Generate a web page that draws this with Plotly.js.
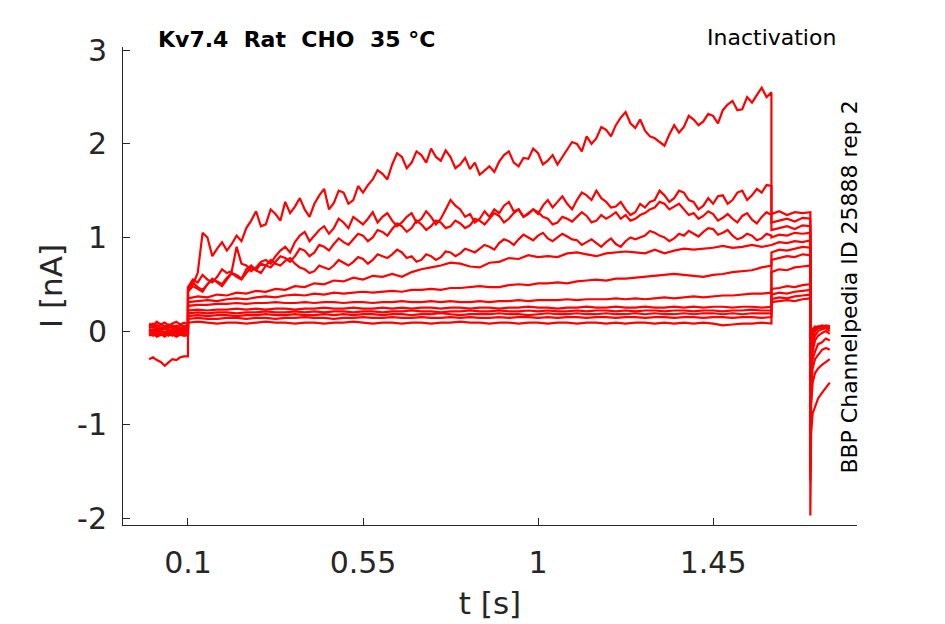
<!DOCTYPE html>
<html>
<head>
<meta charset="utf-8">
<script src="https://cdn.plot.ly/plotly-3.0.1.min.js"></script>
<style>
  body { margin: 0; background: #fff; }
  #myDiv { width: 945px; height: 624px; }
</style>
</head>
<body>
<div id="myDiv"></div>
<script>
// time grids of the protocol segments [s]
var tHold = [0,0.01,0.02,0.03,0.04,0.05,0.06,0.07,0.08,0.09,0.1];
var tStep = [0.1,0.125,0.15,0.175,0.2,0.225,0.25,0.275,0.3,0.325,
             0.35,0.375,0.4,0.425,0.45,0.475,0.5,0.525,0.55,0.575,
             0.6,0.625,0.65,0.675,0.7,0.725,0.75,0.775,0.8,0.825,
             0.85,0.875,0.9,0.925,0.95,0.975,1.0,1.025,1.05,1.075,
             1.1,1.125,1.15,1.175,1.2,1.225,1.25,1.275,1.3,1.325,
             1.35,1.375,1.4,1.425,1.45,1.475,1.5,1.525,1.55,1.575,
             1.6];
var tStepFine = [0.1,0.1125,0.125,0.1375,0.15,0.1625,0.175,0.1875,0.2,0.2125,
             0.225,0.2375,0.25,0.2625,0.275,0.2875,0.3,0.3125,0.325,0.3375,
             0.35,0.3625,0.375,0.3875,0.4,0.4125,0.425,0.4375,0.45,0.4625,
             0.475,0.4875,0.5,0.5125,0.525,0.5375,0.55,0.5625,0.575,0.5875,
             0.6,0.6125,0.625,0.6375,0.65,0.6625,0.675,0.6875,0.7,0.7125,
             0.725,0.7375,0.75,0.7625,0.775,0.7875,0.8,0.8125,0.825,0.8375,
             0.85,0.8625,0.875,0.8875,0.9,0.9125,0.925,0.9375,0.95,0.9625,
             0.975,0.9875,1.0,1.0125,1.025,1.0375,1.05,1.0625,1.075,1.0875,
             1.1,1.1125,1.125,1.1375,1.15,1.1625,1.175,1.1875,1.2,1.2125,
             1.225,1.2375,1.25,1.2625,1.275,1.2875,1.3,1.3125,1.325,1.3375,
             1.35,1.3625,1.375,1.3875,1.4,1.4125,1.425,1.4375,1.45,1.4625,
             1.475,1.4875,1.5,1.5125,1.525,1.5375,1.55,1.5625,1.575,1.5875,
             1.6];
var tTest = [1.6, 1.62, 1.64, 1.66, 1.68, 1.7];
var tTail = [1.7, 1.702, 1.706, 1.712, 1.72, 1.73, 1.74, 1.75];

// currents [nA], one letter per sweep
var holdA = [-0.3,-0.28,-0.31,-0.33,-0.37,-0.33,-0.3,-0.31,-0.28,-0.27,-0.27];
var holdB = [0.08,0.06,0.1,0.07,0.09,0.06,0.08,0.1,0.07,0.09,0.07];
var holdC = [0.05,0.08,0.04,0.07,0.05,0.03,0.06,0.04,0.07,0.05,0.06];
var holdD = [0.03,0.05,0.01,0.04,0.02,0.05,0.03,0.01,0.04,0.02,0.05];
var holdE = [0.02,0.0,0.04,0.01,0.03,0.0,0.02,0.04,0.01,0.03,0.03];
var holdF = [0.0,0.02,-0.01,0.01,-0.02,0.01,0.0,0.02,-0.01,0.01,0.02];
var holdG = [-0.02,0.0,-0.03,-0.01,-0.04,-0.01,-0.02,0.0,-0.03,-0.01,0.0];
var holdH = [-0.03,-0.05,-0.02,-0.04,-0.01,-0.04,-0.03,-0.05,-0.02,-0.04,-0.02];
var holdI = [-0.04,-0.02,-0.05,-0.03,-0.06,-0.03,-0.05,-0.02,-0.04,-0.05,-0.04];
var holdJ = [0.01,-0.01,0.02,0.0,0.03,0.0,0.01,-0.01,0.02,0.0,-0.01];
var holdK = [0.06,0.04,0.07,0.03,0.05,0.07,0.04,0.06,0.03,0.05,0.04];
var holdL = [-0.05,-0.03,-0.06,-0.04,-0.02,-0.05,-0.03,-0.06,-0.04,-0.03,-0.05];

// sweeps A-D on the fine grid
var stepA = [0.45,0.5,0.62,1.05,1.0,0.8,0.88,0.95,0.86,0.93,
             1.02,0.96,1.1,1.18,1.28,1.12,1.14,1.3,1.25,1.18,
             1.38,1.26,1.33,1.42,1.3,1.22,1.36,1.45,1.52,1.3,
             1.37,1.5,1.48,1.36,1.4,1.55,1.48,1.56,1.62,1.72,
             1.68,1.62,1.78,1.9,1.86,1.74,1.8,1.92,1.88,1.8,
             1.95,1.86,1.82,1.93,1.86,1.74,1.78,1.85,1.73,1.8,
             1.67,1.72,1.76,1.7,1.81,1.88,1.92,1.8,1.76,1.85,
             1.84,1.95,1.9,1.78,1.82,1.88,1.78,1.86,1.94,2.02,
             2.0,1.92,2.08,2.0,2.06,2.18,2.15,2.08,2.2,2.28,
             2.34,2.22,2.17,2.26,2.14,2.08,2.06,2.02,1.98,2.1,
             2.2,2.12,2.18,2.3,2.26,2.2,2.24,2.32,2.3,2.22,
             2.36,2.42,2.46,2.36,2.37,2.5,2.44,2.52,2.6,2.5,
             2.55];
var stepB = [0.47,0.55,0.52,0.6,0.55,0.52,0.58,0.66,0.62,0.64,
             0.9,0.72,0.7,0.64,0.68,0.74,0.76,0.72,0.8,0.86,
             0.9,0.84,0.95,1.02,1.06,0.96,1.02,1.08,1.12,1.04,
             1.1,1.2,1.16,1.1,1.22,1.18,1.14,1.2,1.27,1.16,
             1.22,1.26,1.18,1.12,1.16,1.22,1.26,1.16,1.2,1.28,
             1.22,1.14,1.2,1.3,1.4,1.34,1.3,1.22,1.25,1.16,
             1.2,1.28,1.22,1.3,1.26,1.34,1.38,1.28,1.3,1.22,
             1.26,1.3,1.25,1.34,1.4,1.32,1.38,1.44,1.36,1.3,
             1.4,1.48,1.45,1.4,1.5,1.42,1.38,1.32,1.33,1.38,
             1.3,1.24,1.27,1.36,1.32,1.38,1.4,1.5,1.45,1.38,
             1.42,1.5,1.48,1.4,1.38,1.3,1.34,1.42,1.36,1.44,
             1.45,1.36,1.4,1.48,1.5,1.4,1.45,1.52,1.48,1.56,
             1.55];
var stepC = [0.45,0.52,0.47,0.44,0.5,0.56,0.52,0.48,0.55,0.62,
             0.6,0.56,0.66,0.7,0.65,0.72,0.7,0.68,0.74,0.8,
             0.78,0.74,0.8,0.88,0.86,0.8,0.84,0.92,0.9,0.86,
             0.93,0.99,0.95,0.92,0.98,1.04,1.02,0.96,1.0,1.08,
             1.06,1.02,1.09,1.15,1.12,1.06,1.1,1.18,1.14,1.08,
             1.12,1.18,1.16,1.1,1.12,1.18,1.15,1.1,1.13,1.2,
             1.18,1.14,1.2,1.26,1.23,1.16,1.2,1.26,1.3,1.22,
             1.25,1.3,1.27,1.22,1.2,1.14,1.16,1.22,1.2,1.17,
             1.22,1.27,1.23,1.16,1.18,1.24,1.2,1.23,1.27,1.2,
             1.24,1.18,1.2,1.24,1.26,1.3,1.32,1.38,1.36,1.3,
             1.33,1.36,1.3,1.24,1.26,1.2,1.23,1.28,1.25,1.18,
             1.21,1.25,1.2,1.16,1.23,1.26,1.19,1.15,1.22,1.27,
             1.24];
var stepD = [0.42,0.48,0.45,0.42,0.5,0.55,0.53,0.5,0.57,0.62,
             0.58,0.55,0.62,0.68,0.65,0.62,0.7,0.76,0.72,0.7,
             0.75,0.78,0.72,0.68,0.66,0.62,0.64,0.7,0.68,0.66,
             0.7,0.76,0.73,0.7,0.74,0.79,0.77,0.72,0.76,0.82,
             0.8,0.78,0.82,0.87,0.84,0.78,0.8,0.74,0.76,0.82,
             0.8,0.76,0.79,0.85,0.84,0.8,0.83,0.88,0.86,0.84,
             0.88,0.92,0.9,0.87,0.94,0.98,0.96,0.92,0.98,1.03,
             1.0,0.97,1.02,1.05,0.99,0.96,1.0,1.04,1.01,0.98,
             0.97,0.92,0.95,0.98,0.94,0.9,0.95,0.99,0.93,0.9,
             0.96,1.0,0.98,1.0,1.02,1.07,1.05,1.02,1.0,0.96,
             0.99,1.04,1.02,1.07,1.04,1.01,1.06,1.1,1.09,1.03,
             1.05,1.08,1.02,0.98,1.0,1.04,1.02,0.97,0.99,1.04,
             1.02];
// sweeps E-L on the coarse grid
var stepE = [0.35,0.37,0.36,0.39,0.38,0.41,0.4,0.43,0.42,0.45,
             0.44,0.48,0.47,0.51,0.5,0.54,0.53,0.57,0.55,0.59,
             0.58,0.61,0.58,0.63,0.66,0.68,0.7,0.73,0.72,0.69,
             0.68,0.73,0.74,0.78,0.77,0.81,0.79,0.8,0.79,0.83,
             0.84,0.82,0.8,0.83,0.84,0.85,0.84,0.83,0.87,0.83,
             0.86,0.88,0.87,0.88,0.89,0.91,0.89,0.9,0.92,0.9,
             0.92];
var stepF = [0.31,0.32,0.33,0.32,0.34,0.35,0.34,0.36,0.37,0.36,
             0.38,0.39,0.38,0.4,0.39,0.41,0.4,0.41,0.42,0.41,
             0.42,0.43,0.42,0.44,0.44,0.45,0.44,0.46,0.46,0.47,
             0.48,0.47,0.47,0.49,0.5,0.49,0.51,0.51,0.52,0.51,
             0.53,0.54,0.55,0.54,0.56,0.56,0.57,0.58,0.59,0.6,
             0.61,0.6,0.59,0.58,0.6,0.61,0.63,0.64,0.65,0.68,
             0.7];
var stepG = [0.27,0.28,0.28,0.29,0.29,0.3,0.29,0.3,0.3,0.31,
             0.3,0.3,0.31,0.3,0.31,0.31,0.3,0.31,0.31,0.3,
             0.31,0.31,0.32,0.31,0.31,0.32,0.31,0.32,0.31,0.31,
             0.32,0.31,0.32,0.32,0.33,0.32,0.33,0.33,0.33,0.34,
             0.33,0.34,0.34,0.34,0.35,0.34,0.35,0.34,0.35,0.36,
             0.35,0.36,0.37,0.36,0.37,0.38,0.38,0.39,0.4,0.4,
             0.41];
var stepH = [0.22,0.23,0.22,0.23,0.23,0.24,0.23,0.24,0.23,0.24,
             0.24,0.23,0.24,0.24,0.25,0.24,0.24,0.25,0.24,0.24,
             0.25,0.24,0.25,0.24,0.25,0.25,0.24,0.25,0.25,0.24,
             0.25,0.25,0.24,0.25,0.25,0.26,0.25,0.25,0.24,0.25,
             0.25,0.26,0.25,0.25,0.26,0.25,0.25,0.26,0.25,0.25,
             0.26,0.25,0.26,0.25,0.26,0.26,0.25,0.26,0.26,0.25,
             0.26];
var stepI = [0.19,0.2,0.19,0.2,0.2,0.19,0.2,0.2,0.21,0.2,
             0.2,0.21,0.2,0.21,0.2,0.21,0.21,0.2,0.21,0.21,
             0.2,0.21,0.21,0.22,0.21,0.21,0.2,0.21,0.21,0.22,
             0.21,0.21,0.22,0.21,0.21,0.22,0.21,0.22,0.21,0.21,
             0.22,0.21,0.22,0.22,0.21,0.22,0.21,0.22,0.22,0.21,
             0.22,0.22,0.21,0.22,0.22,0.21,0.22,0.22,0.23,0.22,
             0.22];
var stepJ = [0.16,0.17,0.16,0.17,0.17,0.16,0.17,0.17,0.18,0.17,
             0.17,0.18,0.17,0.17,0.18,0.17,0.18,0.17,0.18,0.18,
             0.17,0.18,0.18,0.17,0.18,0.18,0.19,0.18,0.17,0.18,
             0.18,0.18,0.19,0.18,0.18,0.17,0.18,0.19,0.18,0.18,
             0.19,0.18,0.18,0.19,0.18,0.18,0.19,0.18,0.19,0.18,
             0.18,0.19,0.18,0.19,0.19,0.18,0.19,0.18,0.19,0.19,
             0.19];
var stepK = [0.13,0.14,0.13,0.13,0.14,0.14,0.13,0.14,0.14,0.13,
             0.14,0.14,0.15,0.14,0.14,0.13,0.14,0.14,0.15,0.14,
             0.14,0.15,0.14,0.14,0.15,0.14,0.14,0.15,0.14,0.15,
             0.14,0.14,0.15,0.14,0.15,0.15,0.14,0.15,0.14,0.15,
             0.15,0.14,0.15,0.15,0.14,0.15,0.15,0.14,0.15,0.15,
             0.14,0.15,0.15,0.14,0.15,0.15,0.14,0.15,0.15,0.14,
             0.15];
var stepL = [0.09,0.1,0.09,0.08,0.09,0.09,0.08,0.09,0.1,0.09,
             0.09,0.08,0.09,0.09,0.08,0.09,0.09,0.1,0.09,0.08,
             0.09,0.09,0.08,0.09,0.09,0.08,0.09,0.09,0.1,0.09,
             0.09,0.08,0.09,0.09,0.08,0.09,0.09,0.08,0.09,0.09,
             0.08,0.09,0.09,0.08,0.09,0.08,0.09,0.09,0.08,0.09,
             0.08,0.09,0.08,0.09,0.08,0.06,0.07,0.08,0.08,0.09,
             0.08];

var testA = [1.25,1.28,1.24,1.27,1.26,1.27];
var testB = [1.16,1.18,1.2,1.17,1.21,1.2];
var testC = [1.08,1.1,1.12,1.09,1.13,1.12];
var testD = [1.0,1.03,1.02,1.05,1.04,1.05];
var testE = [0.92,0.95,0.94,0.96,0.95,0.97];
var testF = [0.84,0.87,0.86,0.88,0.9,0.89];
var testG = [0.76,0.78,0.8,0.79,0.82,0.81];
var testH = [0.63,0.66,0.65,0.68,0.69,0.7];
var testI = [0.45,0.46,0.48,0.47,0.49,0.5];
var testJ = [0.39,0.41,0.4,0.42,0.43,0.44];
var testK = [0.34,0.36,0.35,0.37,0.38,0.39];
var testL = [0.31,0.32,0.33,0.32,0.34,0.35];

var tailA = [-1.97,-1.1,-0.88,-0.8,-0.72,-0.66,-0.6,-0.55];
var tailB = [-1.6,-0.8,-0.55,-0.45,-0.4,-0.36,-0.33,-0.3];
var tailC = [-1.5,-0.6,-0.4,-0.3,-0.26,-0.2,-0.18,-0.2];
var tailD = [-1.4,-0.5,-0.3,-0.22,-0.14,-0.12,-0.08,-0.1];
var tailE = [-1.3,-0.4,-0.22,-0.1,-0.05,-0.02,0.0,-0.03];
var tailF = [-1.2,-0.35,-0.15,-0.05,0.0,0.02,0.03,0.0];
var tailG = [-1.1,-0.3,-0.1,0.0,0.03,0.04,0.05,0.02];
var tailH = [-1.0,-0.25,-0.05,0.02,0.04,0.05,0.04,0.05];
var tailI = [-0.95,-0.2,-0.02,0.03,0.05,0.03,0.05,0.04];
var tailJ = [-0.9,-0.18,0.0,0.04,0.03,0.05,0.04,0.06];
var tailK = [-0.85,-0.15,0.01,0.03,0.05,0.04,0.06,0.05];
var tailL = [-0.8,-0.12,0.02,0.05,0.04,0.06,0.05,0.04];

var holds = [holdA,holdB,holdC,holdD,holdE,holdF,holdG,holdH,holdI,holdJ,holdK,holdL];
var steps = [stepA,stepB,stepC,stepD,stepE,stepF,stepG,stepH,stepI,stepJ,stepK,stepL];
var tests = [testA,testB,testC,testD,testE,testF,testG,testH,testI,testJ,testK,testL];
var tails = [tailA,tailB,tailC,tailD,tailE,tailF,tailG,tailH,tailI,tailJ,tailK,tailL];

var data = [];
for (var i = 0; i < steps.length; i++) {
    var ts = (steps[i].length == tStepFine.length) ? tStepFine : tStep;
    data.push({
        x: tHold.concat(ts, tTest, tTail),
        y: holds[i].concat(steps[i], tests[i], tails[i]),
        type: 'scatter',
        mode: 'lines',
        line: {color: '#ff0000', width: 2.2},
        hoverinfo: 'skip',
        showlegend: false
    });
}

var axisColor = '#262626';
var font = 'DejaVu Sans, sans-serif';

var layout = {
    width: 945,
    height: 624,
    margin: {l: 123, r: 88, t: 47, b: 99},
    paper_bgcolor: '#ffffff',
    plot_bgcolor: '#ffffff',
    showlegend: false,
    font: {family: font, color: axisColor},
    xaxis: {
        range: [-0.0671, 1.82],
        tickvals: [0.1, 0.55, 1, 1.45],
        ticktext: ['0.1', '0.55', '1', '1.45'],
        ticks: 'inside', ticklen: 7, tickwidth: 1, tickcolor: axisColor,
        showline: true, linecolor: axisColor, linewidth: 1,
        showgrid: false, zeroline: false,
        tickfont: {family: font, size: 30, color: axisColor},
        ticklabelstandoff: 11,
        title: {text: 't [s]', font: {family: font, size: 31, color: axisColor}, standoff: 13}
    },
    yaxis: {
        range: [-2.072, 3.035],
        tickvals: [-2, -1, 0, 1, 2, 3],
        ticktext: ['-2', '-1', '0', '1', '2', '3'],
        ticks: 'inside', ticklen: 7, tickwidth: 1, tickcolor: axisColor,
        showline: true, linecolor: axisColor, linewidth: 1,
        showgrid: false, zeroline: false,
        tickfont: {family: font, size: 30, color: axisColor},
        ticklabelstandoff: 9,
        title: {text: 'I [nA]', font: {family: font, size: 31, color: axisColor}, standoff: 5}
    },
    annotations: [
        {text: '<b>Kv7.4  Rat  CHO  35 °C</b>', xref: 'paper', yref: 'paper',
         x: 0.237, y: 1.015, xanchor: 'center', yanchor: 'middle', showarrow: false,
         font: {family: font, size: 22, color: '#000000'}},
        {text: 'Inactivation', xref: 'paper', yref: 'paper',
         x: 0.974, y: 1.019, xanchor: 'right', yanchor: 'middle', showarrow: false,
         font: {family: font, size: 22, color: '#000000'}},
        {text: 'BBP Channelpedia ID 25888 rep 2', xref: 'paper', yref: 'paper',
         x: 0.99, y: 0.498, xanchor: 'center', yanchor: 'middle', showarrow: false,
         textangle: -90, font: {family: font, size: 22, color: '#000000'}}
    ]
};

Plotly.newPlot('myDiv', data, layout, {staticPlot: true, displayModeBar: false});
</script>
</body>
</html>
